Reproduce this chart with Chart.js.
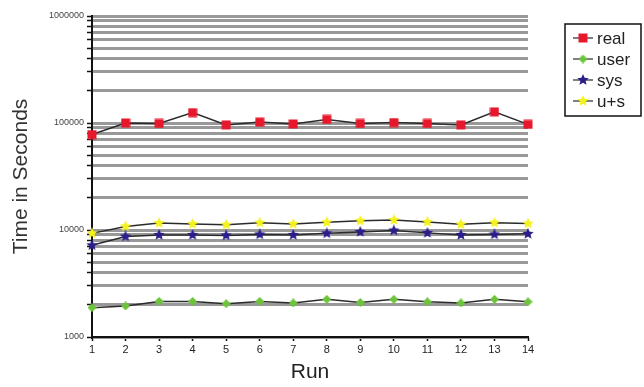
<!DOCTYPE html>
<html>
<head>
<meta charset="utf-8">
<script src="https://cdn.jsdelivr.net/npm/chart.js@4.4.1/dist/chart.umd.min.js"></script>
<style>
  html, body { margin: 0; padding: 0; background: #fff; }
  #wrap { width: 644px; height: 387px; }
</style>
</head>
<body>
<div id="wrap"><canvas id="chart" width="644" height="387"></canvas></div>
<script>
const runs = ['1', '2', '3', '4', '5', '6', '7', '8', '9', '10', '11', '12', '13', '14'];
const real = [78000, 100000, 99000, 125000, 96000, 102000, 98000, 108000, 99000, 101000, 99000, 96000, 127000, 97000];
const user = [1880, 1950, 2150, 2150, 2050, 2150, 2080, 2250, 2100, 2250, 2130, 2080, 2250, 2130];
const sys = [7200, 8700, 9000, 9000, 8900, 9100, 9000, 9300, 9600, 9900, 9400, 9000, 9100, 9200];
const uPlusS = [9300, 10800, 11600, 11400, 11200, 11700, 11400, 11800, 12200, 12400, 11900, 11300, 11700, 11500];
const decadeLabels = [1000, 10000, 100000, 1000000];

// little canvas markers so the stars can be filled
function marker(shape, color, size) {
    const c = document.createElement('canvas');
    c.width = size; c.height = size;
    const g = c.getContext('2d');
    const r = size / 2;
    g.fillStyle = color;
    g.beginPath();
    if (shape === 'square') {
        g.rect(0.5, 0.5, size - 1, size - 1);
    } else if (shape === 'diamond') {
        g.moveTo(r, 0); g.lineTo(size, r); g.lineTo(r, size); g.lineTo(0, r);
    } else if (shape === 'star') {
        for (let i = 0; i < 10; i++) {
            const a = -Math.PI / 2 + i * Math.PI / 5;
            const rr = i % 2 ? r * 0.45 : r;
            g.lineTo(r + rr * Math.cos(a), r + rr * Math.sin(a));
        }
    }
    g.closePath();
    g.fill();
    return c;
}

const styles = {
    real: marker('square', '#e8182c', 10),
    user: marker('diamond', '#6cc43a', 9),
    sys: marker('star', '#2a1d8c', 12),
    us: marker('star', '#f4f21c', 12)
};

function series(label, data, pt) {
    return {
        label: label,
        data: data,
        borderColor: '#2b2b2b',
        borderWidth: 1.5,
        pointStyle: pt,
        pointRadius: 5,
        pointHoverRadius: 5,
        tension: 0,
        clip: false
    };
}

// boxed legend on the right, drawn on the canvas
const boxLegend = {
    id: 'boxLegend',
    afterDraw(chart) {
        const ctx = chart.ctx;
        ctx.save();
        ctx.strokeStyle = '#111';
        ctx.lineWidth = 1.5;
        ctx.strokeRect(565, 24, 76, 92);
        ctx.font = '17px "Liberation Sans", Arial, sans-serif';
        ctx.textBaseline = 'middle';
        chart.data.datasets.forEach((ds, i) => {
            const y = 38 + i * 21;
            ctx.strokeStyle = '#555';
            ctx.lineWidth = 1.5;
            ctx.beginPath();
            ctx.moveTo(573, y); ctx.lineTo(593, y);
            ctx.stroke();
            const img = ds.pointStyle;
            ctx.drawImage(img, 583 - img.width / 2, y - img.height / 2);
            ctx.fillStyle = '#222';
            ctx.fillText(ds.label, 597, y + 1);
        });
        ctx.restore();
    }
};

new Chart(document.getElementById('chart'), {
    type: 'line',
    data: {
        labels: runs,
        datasets: [
            series('real', real, styles.real),
            series('user', user, styles.user),
            series('sys', sys, styles.sys),
            series('u+s', uPlusS, styles.us)
        ]
    },
    options: {
        responsive: false,
        animation: false,
        layout: { padding: { top: 16, right: 116, left: 0, bottom: 0 } },
        plugins: {
            legend: { display: false },
            tooltip: { enabled: false }
        },
        scales: {
            x: {
                offset: false,
                grid: {
                    drawOnChartArea: false,
                    tickLength: 4,
                    tickColor: '#111',
                    tickWidth: 1.5
                },
                border: { color: '#111', width: 2 },
                ticks: {
                    color: '#222',
                    font: { size: 11, family: '"Liberation Sans", Arial, sans-serif' },
                    maxRotation: 0,
                    padding: 2
                },
                title: {
                    display: true,
                    text: 'Run',
                    color: '#222',
                    font: { size: 21, family: '"Liberation Sans", Arial, sans-serif' },
                    padding: { top: 0, bottom: 2 }
                },
                afterFit(scale) { scale.height = 50; }
            },
            y: {
                type: 'logarithmic',
                min: 1000,
                max: 1000000,
                afterBuildTicks(scale) {
                    const t = [];
                    for (let e = 3; e < 6; e++) {
                        for (let m = 1; m < 10; m++) t.push({ value: m * Math.pow(10, e) });
                    }
                    t.push({ value: 1000000 });
                    scale.ticks = t;
                },
                grid: {
                    color: '#999',
                    lineWidth: 3,
                    tickLength: 5,
                    tickColor: '#111',
                    tickWidth: 1.5
                },
                border: { color: '#111', width: 2 },
                ticks: {
                    autoSkip: false,
                    color: '#444',
                    font: { size: 9, family: '"Liberation Sans", Arial, sans-serif' },
                    padding: 3,
                    callback: v => decadeLabels.includes(v) ? String(v) : ''
                },
                title: {
                    display: true,
                    text: 'Time in Seconds',
                    color: '#333',
                    font: { size: 21, family: '"Liberation Sans", Arial, sans-serif' },
                    padding: { top: 9, bottom: 0 }
                },
                afterFit(scale) { scale.width = 92; }
            }
        }
    },
    plugins: [boxLegend]
});
</script>
</body>
</html>
